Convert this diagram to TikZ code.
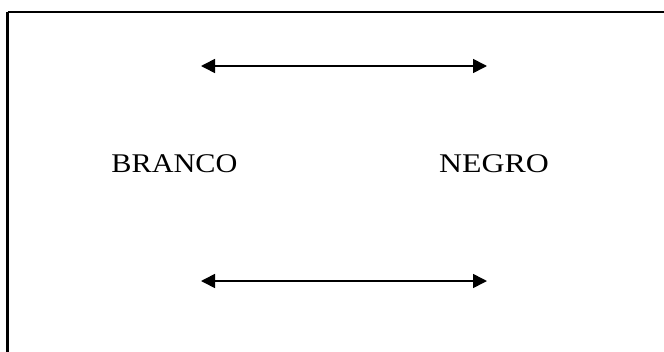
\documentclass[tikz,border=0pt]{standalone}
\usepackage{fontspec}
\setmainfont{Liberation Serif}
\usetikzlibrary{arrows.meta}
\begin{document}
\begin{tikzpicture}[x=1pt,y=-1pt,
  frame/.style={line width=2.8pt},
  dblarrow/.style={line width=1.6pt,{Triangle[length=14pt,width=14pt]}-{Triangle[length=14pt,width=14pt]}},
  label/.style={font=\fontsize{27}{30}\selectfont,inner sep=0pt,anchor=base}]
\useasboundingbox (0,0) rectangle (664,351);
\clip (0,0) rectangle (664,351);
\draw[frame] (7.5,12) -- (700,12);
\draw[frame] (7.5,12) -- (7.5,400);
\coordinate (a1) at (201,66);
\coordinate (b1) at (487,66);
\coordinate (a2) at (201,281);
\coordinate (b2) at (487,281);
\draw[dblarrow] (a1) -- (b1);
\draw[dblarrow] (a2) -- (b2);
\node[label] (branco) at (174.5,172) {\scalebox{1.12}[1]{BRANCO}};
\node[label] (negro) at (494,172) {\scalebox{1.18}[1]{NEGRO}};
\end{tikzpicture}
\end{document}
